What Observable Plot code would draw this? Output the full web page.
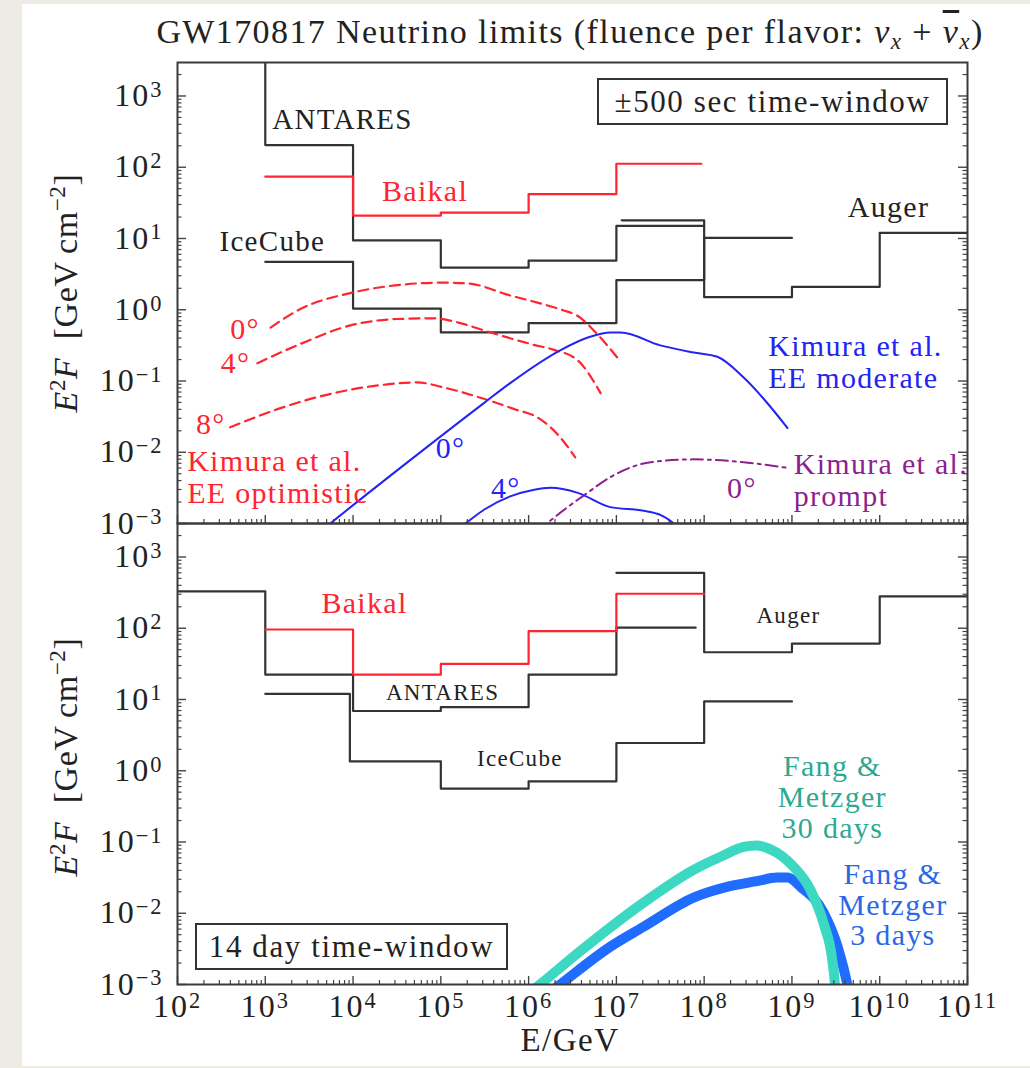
<!DOCTYPE html>
<html><head><meta charset="utf-8">
<script src="https://cdn.jsdelivr.net/npm/d3@7"></script>
<script src="https://cdn.jsdelivr.net/npm/@observablehq/plot@0.6"></script>
<style>
html,body{margin:0;padding:0;background:#eeebe4;}
#page{position:absolute;left:22px;top:4px;width:1008px;height:1062px;background:#fff;}
#wrap{position:absolute;left:0;top:0;width:1030px;height:1068px;font-family:"Liberation Serif",serif;color:#222;}
.abs{position:absolute;white-space:nowrap;}
.box{position:absolute;border:2px solid #333;box-sizing:border-box;display:flex;align-items:center;justify-content:center;font-size:31px;letter-spacing:1.6px;}
.ylab{position:absolute;transform:translate(-50%,-50%) rotate(-90deg);font-size:34px;letter-spacing:0.6px;white-space:nowrap;}
sup{font-size:0.68em;vertical-align:0.5em;line-height:0;}
sub{font-size:0.68em;vertical-align:-0.25em;line-height:0;}
#top text, #bot text{letter-spacing:1.3px;}
#top g[aria-label$="tick label"] text, #bot g[aria-label$="tick label"] text{letter-spacing:2px;}
</style></head><body>
<div id="page"></div>
<div id="wrap">
  <div class="abs" style="left:0;width:1140px;top:13px;text-align:center;font-size:34px;letter-spacing:1.4px;">GW170817 Neutrino limits (fluence per flavor: <i>ν<sub>x</sub></i> + <i><span style="text-decoration:overline">ν</span><sub>x</sub></i>)</div>
  <div id="top" class="abs" style="left:0;top:0;"></div>
  <div id="bot" class="abs" style="left:0;top:500px;"></div>
  <div class="ylab" style="left:66px;top:293px;"><i>E</i><sup>2</sup><i>F</i>&nbsp; [GeV&#8201;cm<sup>−2</sup>]</div>
  <div class="ylab" style="left:66px;top:757px;"><i>E</i><sup>2</sup><i>F</i>&nbsp; [GeV&#8201;cm<sup>−2</sup>]</div>
  <div class="abs" style="left:0;width:1140px;top:1022px;text-align:center;font-size:33px;letter-spacing:1.5px;">E/GeV</div>
  <div class="box" style="left:597px;top:78px;width:351px;height:47px;">±500 sec time-window</div>
  <div class="box" style="left:195px;top:923px;width:313px;height:47px;">14 day time-window</div>
</div>
<script>
// ---------- axis ticks ----------
const xMajor = [1e2,1e3,1e4,1e5,1e6,1e7,1e8,1e9,1e10,1e11];
const yMajor = [1e-3,1e-2,1e-1,1e0,1e1,1e2,1e3];
const minorFactors = [2,3,4,5,6,7,8,9];

// ---------- top panel (±500 s): step limits, bin edges in GeV, E^2F in GeV cm^-2 ----------
const antaresTopEdges = [1e2, 1e3, 1e4, 1e5, 1e6, 1e7, 1e8];
const antaresTopValues = [4000, 205, 9.4, 3.9, 4.9, 15];
const iceCubeTopEdges = [1e3, 1e4, 1e5, 1e6, 1e7, 1e8, 1e9];
const iceCubeTopValues = [4.7, 1.04, 0.48, 0.65, 2.6, 10.2];
const baikalTopEdges = [1e3, 1e4, 1e5, 1e6, 1e7, 9.3e7];
const baikalTopValues = [74, 21, 23, 42, 112];
const augerTopEdges = [1.15e7, 1e8, 1e9, 1e10, 1e11];
const augerTopValues = [18, 1.5, 2.1, 12];

// Kimura et al. model curves: [log10 E/GeV, log10 E^2F]
const eeOptimistic0 = [[3.06,-0.25],[3.40,0.01],[3.99,0.24],[4.54,0.35],[5.0,0.38],[5.3,0.37],[5.79,0.20],[6.1,0.10],[6.40,-0.01],[6.55,-0.08],[6.78,-0.34],[7.01,-0.67]];
const eeOptimistic4 = [[2.91,-0.75],[3.40,-0.48],[3.97,-0.22],[4.5,-0.13],[4.92,-0.12],[5.2,-0.18],[5.49,-0.29],[5.79,-0.40],[6.05,-0.49],[6.28,-0.56],[6.56,-0.71],[6.82,-1.17]];
const eeOptimistic8 = [[2.60,-1.65],[3.2,-1.37],[3.78,-1.17],[4.3,-1.06],[4.73,-1.02],[5.03,-1.09],[5.49,-1.25],[5.85,-1.40],[6.10,-1.51],[6.36,-1.79],[6.53,-2.07]];
const eeModerate0 = [[3.6,-3.14],[3.74,-3.0],[4.6,-2.16],[5.49,-1.31],[5.79,-1.03],[6.36,-0.57],[6.7,-0.38],[6.93,-0.32],[7.05,-0.32],[7.5,-0.50],[7.88,-0.60],[8.15,-0.66],[8.45,-0.95],[8.95,-1.66]];
const eeModerate4 = [[5.15,-3.12],[5.28,-3.0],[5.5,-2.80],[5.79,-2.62],[6.05,-2.53],[6.25,-2.50],[6.56,-2.57],[6.93,-2.77],[7.31,-2.82],[7.5,-2.88],[7.65,-3.0],[7.72,-3.1]];
const prompt0 = [[6.1,-3.12],[6.21,-3.0],[6.67,-2.57],[6.93,-2.35],[7.39,-2.14],[7.88,-2.10],[8.45,-2.14],[8.95,-2.22]];

// ---------- bottom panel (14 days) ----------
const antaresBotEdges = [1e2, 1e3, 1e4, 1e5, 1e6, 1e7, 8e7];
const antaresBotValues = [330, 22.4, 6.9, 7.8, 22.4, 102];
const iceCubeBotEdges = [1e3, 9.2e3, 1e5, 1e6, 1e7, 1e8, 1e9];
const iceCubeBotValues = [12, 1.35, 0.56, 0.71, 2.45, 9.4];
const baikalBotEdges = [1e3, 1e4, 1e5, 1e6, 1e7, 1e8];
const baikalBotValues = [96, 22.4, 31.6, 91, 305];
const augerBotEdges = [1e7, 1e8, 1e9, 1e10, 1e11];
const augerBotValues = [600, 46, 61, 280];

// Fang & Metzger curves: [log10 E/GeV, log10 E^2F]
const fang30days = [[5.93,-3.2],[6.13,-3.0],[6.56,-2.56],[7.31,-1.85],[7.88,-1.39],[8.2,-1.20],[8.45,-1.07],[8.6,-1.05],[8.75,-1.10],[9.02,-1.35],[9.21,-1.67],[9.36,-2.14],[9.46,-2.66],[9.49,-3.0],[9.50,-3.2]];
const fang3days = [[6.15,-3.2],[6.36,-3.0],[6.93,-2.47],[7.31,-2.19],[7.88,-1.78],[8.26,-1.63],[8.6,-1.55],[8.83,-1.50],[8.95,-1.50],[9.10,-1.63],[9.36,-1.99],[9.52,-2.47],[9.63,-3.0],[9.66,-3.2]];

// ---------- helpers ----------
const steps = (edges, values) => values.map((v,i)=>({E:edges[i], v}))
  .concat([{E:edges[edges.length-1], v:values[values.length-1]}]);
const pts = arr => arr.map(([a,b])=>({E:10**a, v:10**b}));
const minors = (majors) => majors.slice(0,-1).flatMap(m => minorFactors.map(f=>f*m));
const xMinor = minors(xMajor);
const yMinor = minors(yMajor).concat([2e3]);
const fmt = d => { const e = Math.round(Math.log10(d)); return "10^" + (e<0 ? "−"+(-e) : e); };

const W = 1030, ML = 177, MR = 63, PW = W-ML-MR, PH = 461;
const X = {type:"log", domain:[1e2,1e11]};
const Y = {type:"log", domain:[1e-3, 10**3.47]};
const BLACK = "#333", RED = "#ff2430", BLUE = "#2323f5", PURPLE = "#8e1f8e";

function frameTicks(withXLabels){
  return [
    Plot.tickX(xMajor, {x:d=>d, insetTop:PH-8, stroke:"#444", strokeWidth:1.4}),
    Plot.tickX(xMinor, {x:d=>d, insetTop:PH-4, stroke:"#444", strokeWidth:1.2}),
    Plot.tickY(yMajor, {y:d=>d, insetRight:PW-9, stroke:"#444", strokeWidth:1.4}),
    Plot.tickY(yMinor, {y:d=>d, insetRight:PW-4.5, stroke:"#444", strokeWidth:1.2}),
    Plot.tickY(yMajor, {y:d=>d, insetLeft:PW-9, stroke:"#444", strokeWidth:1.4}),
    Plot.tickY(yMinor, {y:d=>d, insetLeft:PW-4.5, stroke:"#444", strokeWidth:1.2}),
    Plot.axisY({ticks:yMajor, tickSize:0, tickPadding:14, tickFormat:fmt, label:null, fontSize:32}),
    ...(withXLabels ? [Plot.axisX({ticks:xMajor, tickSize:0, tickPadding:10, tickFormat:fmt, label:null, fontSize:32})] : []),
    Plot.frame({stroke:"#3a3a3a", strokeWidth:2})
  ];
}
const stepLine = (edges, values, stroke) => Plot.line(steps(edges, values), {x:"E", y:"v", curve:"step-after", stroke, strokeWidth:2.2, clip:true});
const txt = (s, E, v, fill, size, extra={}) => Plot.text([s], {x:()=>E, y:()=>v, text:d=>d, fill, fontSize:size, lineHeight:1.07, ...extra});

const topPlot = Plot.plot({
  width: W, height: 525, marginLeft: ML, marginRight: MR, marginTop: 62, marginBottom: 2,
  x: {...X, axis:null}, y: {...Y, axis:null},
  style: {background:"transparent", overflow:"visible", fontFamily:"Liberation Serif, serif", fontSize:"32px", color:"#222"},
  marks: [
    stepLine(antaresTopEdges, antaresTopValues, BLACK),
    stepLine(iceCubeTopEdges, iceCubeTopValues, BLACK),
    stepLine(augerTopEdges, augerTopValues, BLACK),
    stepLine(baikalTopEdges, baikalTopValues, RED),
    Plot.line(pts(eeOptimistic0), {x:"E", y:"v", stroke:RED, strokeWidth:2.2, strokeDasharray:"10,6", curve:"monotone-x", clip:true}),
    Plot.line(pts(eeOptimistic4), {x:"E", y:"v", stroke:RED, strokeWidth:2.2, strokeDasharray:"10,6", curve:"monotone-x", clip:true}),
    Plot.line(pts(eeOptimistic8), {x:"E", y:"v", stroke:RED, strokeWidth:2.2, strokeDasharray:"10,6", curve:"monotone-x", clip:true}),
    Plot.line(pts(eeModerate0), {x:"E", y:"v", stroke:BLUE, strokeWidth:2, curve:"monotone-x", clip:true}),
    Plot.line(pts(eeModerate4), {x:"E", y:"v", stroke:BLUE, strokeWidth:2, curve:"monotone-x", clip:true}),
    Plot.line(pts(prompt0), {x:"E", y:"v", stroke:PURPLE, strokeWidth:2, strokeDasharray:"12,5,3,5", curve:"monotone-x", clip:true}),
    txt("ANTARES", 10**3.88, 10**2.68, "#222", 29),
    txt("Baikal", 10**4.82, 10**1.67, RED, 30),
    txt("IceCube", 10**3.08, 10**0.97, "#222", 29),
    txt("Auger", 10**10.10, 10**1.45, "#222", 30),
    txt("0°", 10**2.77, 10**-0.26, RED, 30),
    txt("4°", 10**2.66, 10**-0.75, RED, 30),
    txt("8°", 10**2.38, 10**-1.60, RED, 30),
    txt("Kimura et al.\nEE optimistic", 10**2.11, 10**-2.34, RED, 30, {textAnchor:"start"}),
    txt("0°", 10**5.11, 10**-1.93, BLUE, 30),
    txt("4°", 10**5.74, 10**-2.50, BLUE, 30),
    txt("Kimura et al.\nEE moderate", 10**8.73, 10**-0.73, BLUE, 30, {textAnchor:"start"}),
    txt("Kimura et al.\nprompt", 10**9.02, 10**-2.38, PURPLE, 30, {textAnchor:"start"}),
    txt("0°", 10**8.43, 10**-2.50, PURPLE, 30),
    ...frameTicks(false)
  ]
});

const botPlot = Plot.plot({
  width: W, height: 568, marginLeft: ML, marginRight: MR, marginTop: 23, marginBottom: 84,
  x: {...X, axis:null}, y: {...Y, axis:null},
  style: {background:"transparent", overflow:"visible", fontFamily:"Liberation Serif, serif", fontSize:"32px", color:"#222"},
  marks: [
    stepLine(antaresBotEdges, antaresBotValues, BLACK),
    stepLine(iceCubeBotEdges, iceCubeBotValues, BLACK),
    stepLine(augerBotEdges, augerBotValues, BLACK),
    stepLine(baikalBotEdges, baikalBotValues, RED),
    Plot.line(pts(fang3days), {x:"E", y:"v", stroke:"#1f6cff", strokeWidth:10, curve:"monotone-x", clip:true}),
    Plot.line(pts(fang30days), {x:"E", y:"v", stroke:"#3cd8c2", strokeWidth:10, curve:"monotone-x", clip:true}),
    txt("Baikal", 10**4.13, 10**2.36, RED, 30),
    txt("ANTARES", 10**5.02, 10**1.11, "#222", 23),
    txt("IceCube", 10**5.90, 10**0.18, "#222", 23),
    txt("Auger", 10**8.96, 10**2.19, "#222", 23),
    txt("Fang &\nMetzger\n30 days", 10**9.46, 10**-0.37, "#2ea98f", 30, {lineHeight:1.03}),
    txt("Fang &\nMetzger\n3 days", 10**10.15, 10**-1.88, "#2a68e6", 30, {lineHeight:1.03}),
    ...frameTicks(true)
  ]
});

document.getElementById("top").appendChild(topPlot);
document.getElementById("bot").appendChild(botPlot);

// render tick labels as 10 with a superscript exponent
for (const t of document.querySelectorAll("#top text, #bot text")) {
  const m = /^10\^(.+)$/.exec(t.textContent);
  if (!m) continue;
  t.textContent = "10";
  const s = document.createElementNS("http://www.w3.org/2000/svg","tspan");
  s.setAttribute("dy","-0.42em");
  s.setAttribute("font-size","0.7em");
  s.textContent = m[1];
  t.appendChild(s);
}
</script>
</body></html>
